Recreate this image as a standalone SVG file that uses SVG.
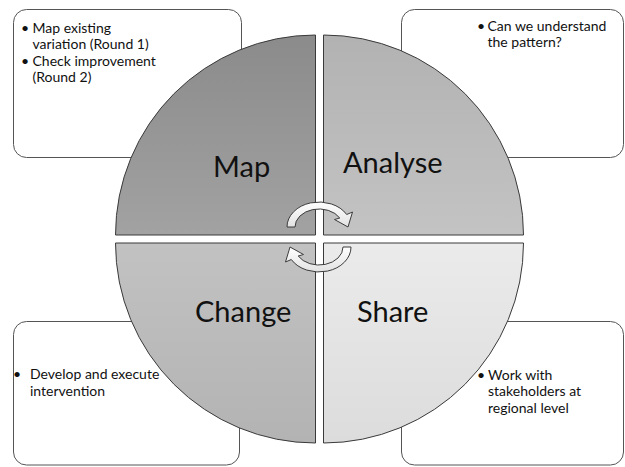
<svg xmlns="http://www.w3.org/2000/svg" width="625" height="467" viewBox="0 0 625 467">
<style>
.box{fill:#ffffff;stroke:#555555;stroke-width:1}
.quad{stroke:#3a3a3a;stroke-width:1}
.lbl{font-family:Lato,"Open Sans",sans-serif;font-size:29px;fill:#111111}
.txt{font-family:Lato,"Open Sans",sans-serif;font-size:14px;fill:#111111}
.arrow{fill:url(#gArrow);stroke:#3c3c3c;stroke-width:1;stroke-linejoin:round}
</style>
<defs>
<linearGradient id="gMap" x1="0" y1="0" x2="0" y2="1"><stop offset="0" stop-color="#8b8b8b"/><stop offset="1" stop-color="#a2a2a2"/></linearGradient>
<linearGradient id="gAna" x1="0" y1="0" x2="0" y2="1"><stop offset="0" stop-color="#b2b2b2"/><stop offset="1" stop-color="#c3c3c3"/></linearGradient>
<linearGradient id="gChg" x1="0" y1="0" x2="0" y2="1"><stop offset="0" stop-color="#c2c2c2"/><stop offset="1" stop-color="#b3b3b3"/></linearGradient>
<linearGradient id="gShr" x1="0" y1="0" x2="0" y2="1"><stop offset="0" stop-color="#ebebeb"/><stop offset="1" stop-color="#dcdcdc"/></linearGradient>
<linearGradient id="gArrow" x1="0" y1="0" x2="0" y2="1"><stop offset="0" stop-color="#ffffff"/><stop offset="1" stop-color="#e2e2e2"/></linearGradient>
</defs>
<rect width="625" height="467" fill="#ffffff"/>

<g id="note-map">
<rect class="box" x="13.5" y="9.5" width="228" height="148" rx="13"/>
<text class="txt" x="25" y="33" text-anchor="middle">•</text>
<text class="txt" x="32.5" y="33">Map existing</text>
<text class="txt" x="32.5" y="49">variation (Round 1)</text>
<text class="txt" x="25" y="66" text-anchor="middle">•</text>
<text class="txt" x="32.5" y="66">Check improvement</text>
<text class="txt" x="32.5" y="81.5">(Round 2)</text>
</g>

<g id="note-analyse">
<rect class="box" x="401.5" y="9.5" width="222" height="148" rx="13"/>
<text class="txt" x="481" y="31" text-anchor="middle">•</text>
<text class="txt" x="487.5" y="31">Can we understand</text>
<text class="txt" x="487.5" y="47">the pattern?</text>
</g>

<g id="note-change">
<rect class="box" x="13.5" y="321.5" width="226" height="143.5" rx="13"/>
<text class="txt" x="17" y="379" text-anchor="middle">•</text>
<text class="txt" x="30" y="379">Develop and execute</text>
<text class="txt" x="30" y="396">intervention</text>
</g>

<g id="note-share">
<rect class="box" x="401.5" y="321.5" width="222" height="143.5" rx="13"/>
<text class="txt" x="481" y="379.5" text-anchor="middle">•</text>
<text class="txt" x="488" y="379.5">Work with</text>
<text class="txt" x="488" y="396">stakeholders at</text>
<text class="txt" x="488" y="412.5">regional level</text>
</g>

<g id="map">
<path class="quad" fill="url(#gMap)" d="M315.5 235 L315.5 35 A200 200 0 0 0 115.5 235 Z"/>
<text class="lbl" x="213" y="177">Map</text>
</g>
<g id="analyse">
<path class="quad" fill="url(#gAna)" d="M323.5 235 L323.5 35 A200 200 0 0 1 523.5 235 Z"/>
<text class="lbl" x="343" y="173">Analyse</text>
</g>
<g id="change">
<path class="quad" fill="url(#gChg)" d="M315.5 243 L115.5 243 A200 200 0 0 0 315.5 443 Z"/>
<text class="lbl" x="195" y="322">Change</text>
</g>
<g id="share">
<path class="quad" fill="url(#gShr)" d="M323.5 243 L523.5 243 A200 200 0 0 1 323.5 443 Z"/>
<text class="lbl" x="357" y="322">Share</text>
</g>

<g id="connectors">
<path class="arrow" d="M287 227 A32 25 0 0 1 346.7 214.5 L352.5 212 L348 227 L334.5 219.5 L339.8 218 A24 18 0 0 0 295 227 Z"/>
<path class="arrow" d="M351 247 A32 25 0 0 1 291.3 259.5 L285.5 262 L290 247 L303.5 254.5 L298.2 256 A24 18 0 0 0 343 247 Z"/>
</g>
</svg>
